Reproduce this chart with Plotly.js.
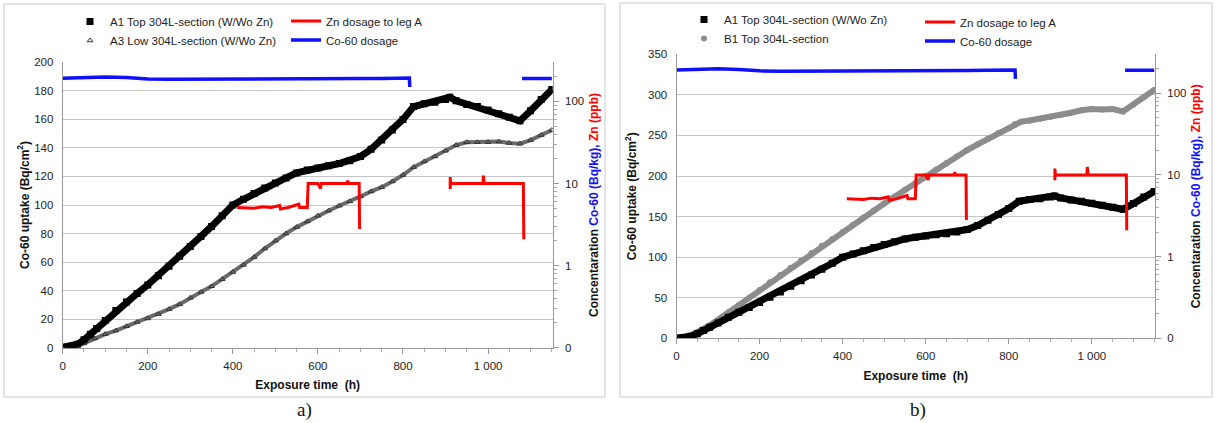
<!DOCTYPE html>
<html>
<head>
<meta charset="utf-8">
<script src="https://cdn.plot.ly/plotly-3.0.1.min.js"></script>
<style>html,body{margin:0;padding:0;background:#fff;}#chart{width:1216px;height:423px;}</style>
</head>
<body>
<div id="chart"></div>
<script>
// ---------- DATA ----------
// A1 Top 304L-section (W/Wo Zn) : exposure time (h) and Co-60 uptake (Bq/cm2)
const a1Hours = [5,20,35,50,65,80,100,125,150,175,200,225,250,275,300,325,350,375,400,425,450,475,500,525,550,575,600,625,650,675,700,725,750,775,800,825,850,875,900,910,925,950,975,1000,1025,1050,1075,1100,1125,1150];
const a1Uptake = [0.5,1,2.5,5.5,9.5,13.5,19,26,32,38,44,50.5,57,64,71,78,85,92.5,100,104,108,112,115.5,119,122.5,124.5,126,127.5,129,131,134,139,145.5,152.5,160,169,171,172,174,175.5,173,170.5,169,166.5,164,161.5,159,166,174,181];

// A3 Low 304L-section (W/Wo Zn)
const a3Hours = [10,25,50,75,100,125,150,175,200,225,250,275,300,325,350,375,400,425,450,475,500,525,550,575,600,625,650,675,700,725,750,775,800,825,850,875,900,925,950,975,1000,1025,1050,1075,1100,1125,1150];
const a3Uptake = [0,0.5,3,6.5,9.5,12,15,18,20.5,23.5,27,30.5,35,39,43,48,53,58,63.5,69.5,75,80,84.5,88.5,92.5,96,99.5,102.5,106,109.5,112.5,116.5,121,126.5,130.5,134,138,142,144,144,144,144.5,143.5,143,145.5,149,152.5];

// B1 Top 304L-section
const b1Hours = [0,20,40,60,80,100,125,150,175,200,225,250,275,300,325,350,375,400,425,450,475,500,525,550,575,600,625,650,675,700,725,750,775,800,815,830,850,875,900,925,950,975,1000,1025,1050,1075,1100,1125,1150];
const b1Uptake = [0.5,1.5,5,10,16,23,32,41,50,59.5,69,78,87,96,105,114,122.5,131,140,149,157.5,166,174.5,183,191.5,200,208,216,224,232,239,246,253,259,264,267,268.5,270.5,273,275.5,278,281,282.5,282,282.5,279.5,288,297,306];

// Zn dosage to leg A (ppb); null = no dosage
const znHours = [410,430,450,470,490,510,512,530,555,557,575,577,600,606,608,640,668,670,672,697,698,800,911,911,912,950,988,989,991,1030,1083,1084];
const znPpb   = [5.1,5.1,5,5.2,5.1,5.4,4.9,5.1,5.6,5.1,5.1,10,10,8.7,10,10,10,10.8,10,10,2.8,null,8.6,12,10,10,10,12.5,10,10,10,2.1];

// Co-60 dosage (Bq/kg); null = no dosage
const coHours = [0,50,100,150,200,250,300,350,400,450,500,550,600,650,700,750,800,815,816,950,1080,1100,1125,1150];
const coBqKg  = [192,196,199,196,188,186,186,188,190,190,190,189,189,190,190,191,193,193,150,null,191,192,190,191];

// Tick labels
const timeTicks = [0,200,400,600,800,1000];
const timeTickText = ["0","200","400","600","800","1 000"];
const concTicks = [0.1,1,10,100];
const concTickText = ["0","1","10","100"];
const concMinor = [0.2,0.3,0.4,0.5,0.6,0.7,0.8,0.9,2,3,4,5,6,7,8,9,20,30,40,50,60,70,80,90,200];

// Legend names
const nameA1 = "A1 Top 304L-section (W/Wo Zn)";
const nameA3 = "A3 Low 304L-section (W/Wo Zn)";
const nameB1 = "B1 Top 304L-section";
const nameZn = "Zn dosage to leg A";
const nameCo = "Co-60 dosage";

// ---------- STYLE ----------
const W = 1216, H = 423;
const FONT = "Liberation Sans, Arial, sans-serif";
const BLUE = "#1010ff", RED = "#ff0000";
const px = v => v / W;
const py = v => 1 - v / H;

function lineTrace(x, y, xa, ya, color, width) {
  return {x, y, xaxis: xa, yaxis: ya, type: "scatter", mode: "lines",
          line: {color, width}, showlegend: false, hoverinfo: "skip"};
}
function markerTrace(x, y, xa, ya, name, legend, marker) {
  return {x, y, xaxis: xa, yaxis: ya, type: "scatter", mode: "markers",
          name, legend, marker, showlegend: true, hoverinfo: "skip"};
}
function doseTrace(x, y, xa, ya, name, legend, color, width) {
  return {x, y, xaxis: xa, yaxis: ya, type: "scatter", mode: "lines", name, legend,
          line: {color, width}, connectgaps: false, hoverinfo: "skip"};
}

const a1Marker = {symbol: "square", size: 7, color: "#000"};
const a3Marker = {symbol: "triangle-up-open", size: 5, color: "#333", line: {width: 1, color: "#333"}};
const b1Marker = {symbol: "circle", size: 6, color: "#8c8c8c"};

const traces = [
  // panel a
  lineTrace(a3Hours, a3Uptake, "x", "y", "#6a6a6a", 4),
  markerTrace(a3Hours, a3Uptake, "x", "y", nameA3, "legend", a3Marker),
  lineTrace(a1Hours, a1Uptake, "x", "y", "#000", 7),
  markerTrace(a1Hours, a1Uptake, "x", "y", nameA1, "legend", a1Marker),
  doseTrace(znHours, znPpb, "x", "y2", nameZn, "legend2", RED, 3),
  doseTrace(coHours, coBqKg, "x", "y2", nameCo, "legend2", BLUE, 3.5),
  // panel b
  lineTrace(b1Hours, b1Uptake, "x2", "y3", "#8c8c8c", 6),
  markerTrace(b1Hours, b1Uptake, "x2", "y3", nameB1, "legend3", b1Marker),
  lineTrace(a1Hours, a1Uptake, "x2", "y3", "#000", 7),
  markerTrace(a1Hours, a1Uptake, "x2", "y3", nameA1, "legend3", a1Marker),
  doseTrace(znHours, znPpb, "x2", "y4", nameZn, "legend4", RED, 3),
  doseTrace(coHours, coBqKg, "x2", "y4", nameCo, "legend4", BLUE, 3.5)
];
// legend order: A1 first, then A3/B1
traces[3].legendrank = 1; traces[1].legendrank = 2;
traces[9].legendrank = 1; traces[7].legendrank = 2;

const tickFont = {family: FONT, size: 11.5, color: "#222"};
const titleFont = {family: FONT, size: 12, color: "#111"};

function xAxis(domain, anchor) {
  return {domain, anchor, range: [0, 1152], tickmode: "array", tickvals: timeTicks, ticktext: timeTickText,
          ticks: "outside", ticklen: 5, tickcolor: "#999", showline: true, linecolor: "#999", linewidth: 1,
          showgrid: false, zeroline: false, tickfont: tickFont, ticklabelstandoff: 2,
          minor: {tickmode: "linear", tick0: 0, dtick: 50, ticks: "outside", ticklen: 3, tickcolor: "#aaa", showgrid: false},
          title: {text: "<b>Exposure time  (h)</b>", font: titleFont, standoff: 10}};
}
function yLeft(domain, anchor, max, dtick, standoff) {
  return {domain, anchor, range: [0, max], dtick, tick0: 0, showgrid: true, gridcolor: "#c4c4c4", gridwidth: 1,
          showline: true, linecolor: "#999", zeroline: false, ticks: "", tickfont: tickFont, ticklabelstandoff: 6,
          title: {text: "<b>Co-60 uptake (Bq/cm<sup>2</sup>)</b>", font: titleFont, standoff}};
}
function yRight(overlay, anchor) {
  return {overlaying: overlay, anchor, side: "right", type: "log", range: [-1, 2.477],
          tickmode: "array", tickvals: concTicks, ticktext: concTickText, ticks: "outside", ticklen: 5, tickcolor: "#999",
          minor: {tickmode: "array", tickvals: concMinor, ticks: "outside", ticklen: 3, tickcolor: "#aaa", showgrid: false},
          showgrid: false, showline: true, linecolor: "#999", zeroline: false, tickfont: tickFont, ticklabelstandoff: 4,
          title: {text: "<b>Concentaration <span style='color:" + BLUE + "'>Co-60 (Bq/kg),</span> <span style='color:" + RED + "'>Zn (ppb)</span></b>",
                  font: titleFont, standoff: 6}};
}

const legendBase = {font: {family: FONT, size: 11.5, color: "#222"}, bgcolor: "rgba(0,0,0,0)", borderwidth: 0,
                    xanchor: "left", yanchor: "top", orientation: "v", traceorder: "normal", tracegroupgap: 0, itemwidth: 30};

const layout = {
  width: W, height: H, paper_bgcolor: "#fff", plot_bgcolor: "#fff",
  margin: {l: 0, r: 0, t: 0, b: 0, pad: 0},
  separators: ". ",
  font: {family: FONT, size: 11.5, color: "#222"},
  xaxis: xAxis([px(62.7), px(552.7)], "y"),
  yaxis: yLeft([py(347.7), py(62.3)], "x", 200, 20, 2),
  yaxis2: yRight("y", "x"),
  xaxis2: xAxis([px(676.5), px(1155)], "y3"),
  yaxis3: yLeft([py(338.3), py(54.3)], "x2", 350, 50, 8),
  yaxis4: yRight("y3", "x2"),
  legend:  Object.assign({}, legendBase, {x: px(70), y: py(7)}),
  legend2: Object.assign({}, legendBase, {x: px(286), y: py(6.5)}),
  legend3: Object.assign({}, legendBase, {x: px(684), y: py(5)}),
  legend4: Object.assign({}, legendBase, {x: px(920), y: py(7.5)}),
  shapes: [
    {type: "rect", xref: "paper", yref: "paper", x0: px(4), x1: px(605), y0: py(397), y1: py(4), line: {color: "#c8c8c8", width: 1}},
    {type: "rect", xref: "paper", yref: "paper", x0: px(620), x1: px(1212), y0: py(397), y1: py(3), line: {color: "#c8c8c8", width: 1}}
  ],
  annotations: [
    {text: "a)", xref: "paper", yref: "paper", x: px(304), y: py(410), showarrow: false, xanchor: "center", yanchor: "middle",
     font: {family: "Liberation Serif, Times New Roman, serif", size: 19, color: "#111"}},
    {text: "b)", xref: "paper", yref: "paper", x: px(918), y: py(410), showarrow: false, xanchor: "center", yanchor: "middle",
     font: {family: "Liberation Serif, Times New Roman, serif", size: 19, color: "#111"}}
  ]
};

Plotly.newPlot("chart", traces, layout, {displayModeBar: false, staticPlot: true});
</script>
</body>
</html>
